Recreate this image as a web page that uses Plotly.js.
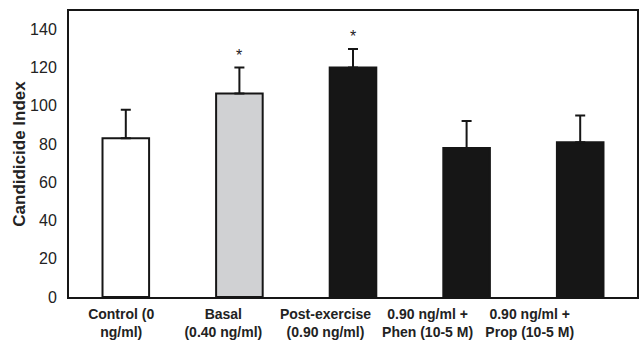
<!DOCTYPE html>
<html>
<head>
<meta charset="utf-8">
<script src="https://cdn.plot.ly/plotly-3.0.1.min.js"></script>
<style>html,body{margin:0;padding:0;background:#fff;}#chart{width:639px;height:345px;}</style>
</head>
<body>
<div id="chart"></div>
<script>
var categories = ['Control (0<br>ng/ml)', 'Basal<br>(0.40 ng/ml)', 'Post-exercise<br>(0.90 ng/ml)', '0.90 ng/ml +<br>Phen (10-5 M)', '0.90 ng/ml +<br>Prop (10-5 M)'];
var means = [83, 106.5, 120, 78, 81];
var errUp = [15, 13.5, 9.7, 14, 14];
var stars = ['', '*', '*', '', ''];
var barColors = ['#ffffff', '#d0d1d3', '#161616', '#161616', '#161616'];
var yTicks = [0, 20, 40, 60, 80, 100, 120, 140];

var idx = categories.map(function(_, i){ return i; });

var trace = {
  type: 'bar',
  x: idx,
  y: means,
  width: 0.41,
  marker: {color: barColors, line: {color: '#161616', width: 2}},
  error_y: {type: 'data', symmetric: false, array: errUp, arrayminus: means.map(function(){return 0;}), color: '#161616', thickness: 2, width: 5},
  hoverinfo: 'none'
};

// invisible carrier trace so the label axis is drawn
var labelTrace = {
  type: 'scatter', mode: 'markers', x: idx, y: means, xaxis: 'x2', yaxis: 'y',
  marker: {opacity: 0, size: 1}, hoverinfo: 'none', showlegend: false
};

var annotations = [];
stars.forEach(function(s, i){
  if (s) annotations.push({x: i, y: means[i] + errUp[i], xref: 'x', yref: 'y', text: s, showarrow: false, yanchor: 'bottom', yshift: 2, font: {family: 'Liberation Sans, Arial, sans-serif', size: 16, color: '#222'}});
});

var layout = {
  width: 639, height: 345,
  margin: {l: 69, r: 2, t: 11, b: 48},
  paper_bgcolor: '#fff', plot_bgcolor: 'rgba(0,0,0,0)',
  showlegend: false,
  xaxis: {domain: [0, 1], range: [-0.5, 4.5], showticklabels: false, ticks: '', showgrid: false, zeroline: false, showline: true, linecolor: '#161616', linewidth: 2, mirror: true},
  xaxis2: {anchor: 'y', side: 'bottom', domain: [0.002, 0.901], range: [-0.5, 4.5], tickmode: 'array', tickvals: idx, ticktext: categories, ticks: '', ticklabelstandoff: 7, showgrid: false, zeroline: false, showline: false, tickfont: {family: 'Liberation Sans, Arial, sans-serif', size: 14, color: '#222', weight: 'bold'}},
  yaxis: {range: [0, 149.6], tickmode: 'array', tickvals: yTicks, ticks: '', ticklabelstandoff: 7, showgrid: false, zeroline: false, showline: true, linecolor: '#161616', linewidth: 2, mirror: true, tickfont: {family: 'Liberation Sans, Arial, sans-serif', size: 16, color: '#222'},
    title: {text: '<b>Candidicide Index</b>', font: {family: 'Liberation Sans, Arial, sans-serif', size: 17, color: '#222'}, standoff: 0}},
  annotations: annotations
};

Plotly.newPlot('chart', [trace, labelTrace], layout, {staticPlot: true, displayModeBar: false});
</script>
</body>
</html>
